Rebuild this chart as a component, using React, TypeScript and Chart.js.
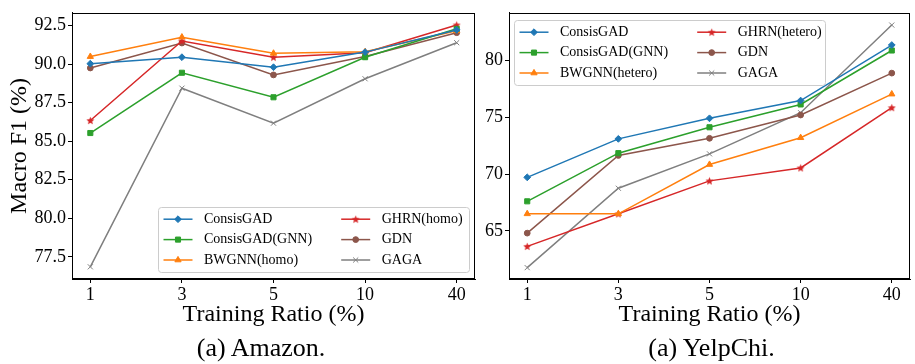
import React, { useEffect, useRef } from 'react';
import { Chart, registerables } from 'chart.js';
import { drawPoint } from 'chart.js/helpers';

Chart.register(...registerables);

// ---------- data ----------
const ratioLabels = ['1', '3', '5', '10', '40'];

const amazonNames = ['ConsisGAD', 'ConsisGAD(GNN)', 'BWGNN(homo)', 'GHRN(homo)', 'GDN', 'GAGA'];
const yelpNames = ['ConsisGAD', 'ConsisGAD(GNN)', 'BWGNN(hetero)', 'GHRN(hetero)', 'GDN', 'GAGA'];

const amazonConsisGAD = [90.03, 90.45, 89.8, 90.78, 92.22];
const amazonConsisGADGNN = [85.53, 89.44, 87.85, 90.45, 92.29];
const amazonBWGNN = [90.49, 91.75, 90.7, 90.8, 92.16];
const amazonGHRN = [86.34, 91.5, 90.45, 90.74, 92.54];
const amazonGDN = [89.75, 91.37, 89.3, 90.49, 92.04];
const amazonGAGA = [76.85, 88.44, 86.17, 89.05, 91.39];

const yelpConsisGAD = [69.71, 73.1, 74.91, 76.47, 81.36];
const yelpConsisGADGNN = [67.6, 71.84, 74.12, 76.13, 80.88];
const yelpBWGNN = [66.5, 66.5, 70.84, 73.2, 77.04];
const yelpGHRN = [63.63, 66.5, 69.4, 70.54, 75.85];
const yelpGDN = [64.8, 71.64, 73.15, 75.2, 78.89];
const yelpGAGA = [61.76, 68.75, 71.78, 75.4, 83.12];

const amazonTicks = [77.5, 80, 82.5, 85, 87.5, 90, 92.5];
const yelpTicks = [65, 70, 75, 80];

const yTitle = 'Macro F1 (%)';
const xTitle = 'Training Ratio (%)';
const amazonCaption = '(a) Amazon.';
const yelpCaption = '(a) YelpChi.';

// ---------- styles ----------
const FONT = '"Liberation Serif", "Times New Roman", serif';
const colors = ['#1f77b4', '#2ca02c', '#ff7f0e', '#d62728', '#8c564b', '#7f7f7f'];

function makeStar(color: string, size: number) {
  const c = document.createElement('canvas');
  c.width = size;
  c.height = size;
  const ctx = c.getContext('2d')!;
  const cx = size / 2, cy = size / 2 + 0.4, R = size / 2 - 0.3, r = R * 0.45;
  ctx.beginPath();
  for (let i = 0; i < 10; i++) {
    const ang = -Math.PI / 2 + (i * Math.PI) / 5;
    const rad = i % 2 === 0 ? R : r;
    ctx.lineTo(cx + rad * Math.cos(ang), cy + rad * Math.sin(ang));
  }
  ctx.closePath();
  ctx.fillStyle = color;
  ctx.fill();
  return c;
}

function pointStyles(): any[] {
  return ['rectRot', 'rect', 'triangle', makeStar(colors[3], 9), 'circle', 'crossRot'];
}
const pointRadii = [3.4, 3.6, 3.6, 4, 2.9, 3.6];

const frameLegendPlugin = {
  id: 'frameLegend',
  afterDatasetsDraw(chart: any, _args: any, opts: any) {
    const { ctx, chartArea: a } = chart;
    ctx.save();
    // full frame (all four spines)
    ctx.strokeStyle = '#000';
    ctx.lineWidth = 1;
    ctx.strokeRect(Math.round(a.left) + 0.5, Math.round(a.top) + 0.5,
      Math.round(a.right) - Math.round(a.left) - 1, Math.round(a.bottom) - Math.round(a.top) - 1);

    // legend box
    const boxW = 311, boxH = 65;
    let bx: number, by: number;
    if (opts.anchor === 'br') {
      bx = a.right - opts.offX - boxW;
      by = a.bottom - opts.offY - boxH;
    } else {
      bx = a.left + opts.offX;
      by = a.top + opts.offY;
    }
    bx = Math.round(bx) + 0.5;
    by = Math.round(by) + 0.5;
    ctx.beginPath();
    if (ctx.roundRect) ctx.roundRect(bx, by, boxW, boxH, 3);
    else ctx.rect(bx, by, boxW, boxH);
    ctx.fillStyle = 'rgba(255,255,255,0.8)';
    ctx.fill();
    ctx.strokeStyle = '#cccccc';
    ctx.lineWidth = 1;
    ctx.stroke();

    chart.data.datasets.forEach((ds: any, i: number) => {
      const col = Math.floor(i / 3), row = i % 3;
      const x0 = bx + 5 + col * 177.7;
      const y = by + 11.7 + row * 20.4;
      ctx.strokeStyle = ds.borderColor;
      ctx.lineWidth = 1.5;
      ctx.beginPath();
      ctx.moveTo(x0, y);
      ctx.lineTo(x0 + 29, y);
      ctx.stroke();
      ctx.fillStyle = ds.pointBackgroundColor;
      ctx.strokeStyle = ds.pointBorderColor;
      ctx.lineWidth = ds.pointBorderWidth;
      drawPoint(ctx, { pointStyle: ds.pointStyle, radius: ds.pointRadius, rotation: 0, borderWidth: ds.pointBorderWidth } as any, x0 + 14.5, y);
      ctx.fillStyle = '#000';
      ctx.font = `14px ${FONT}`;
      ctx.textBaseline = 'middle';
      ctx.textAlign = 'left';
      ctx.fillText(ds.label, x0 + 40.5, y);
    });
    ctx.restore();
  },
};

function buildConfig(p: {
  series: number[][];
  names: string[];
  yMin: number;
  yMax: number;
  yTicks: number[];
  decimals: number;
  showYTitle: boolean;
  yWidth: number;
  padRight: number;
  legend: any;
}) {
  const styles = pointStyles();
  const datasets = p.series.map((vals, i) => ({
    label: p.names[i],
    data: vals.map((v, j) => ({ x: j, y: v })),
    borderColor: colors[i],
    backgroundColor: colors[i],
    pointBackgroundColor: colors[i],
    pointBorderColor: colors[i],
    pointBorderWidth: 1,
    borderWidth: 1.5,
    pointStyle: styles[i],
    pointRadius: pointRadii[i],
    tension: 0,
    fill: false,
  }));
  return {
    type: 'line' as const,
    data: { datasets },
    plugins: [frameLegendPlugin],
    options: {
      responsive: false,
      animation: false,
      devicePixelRatio: 1,
      layout: { padding: { top: 4, right: p.padRight, left: 0, bottom: 0 } },
      plugins: {
        legend: { display: false },
        tooltip: { enabled: false },
        frameLegend: p.legend,
      },
      scales: {
        x: {
          type: 'linear',
          min: -0.2,
          max: ratioLabels.length - 1 + 0.2,
          afterBuildTicks: (s: any) => {
            s.ticks = ratioLabels.map((_, i) => ({ value: i }));
          },
          afterFit: (s: any) => {
            s.height = 85;
          },
          ticks: {
            callback: (v: any) => ratioLabels[v] ?? '',
            color: '#000',
            font: { family: FONT, size: 18 },
            padding: 1,
            maxRotation: 0,
            autoSkip: false,
          },
          grid: { drawOnChartArea: false, drawTicks: true, tickLength: 4, color: '#000' },
          border: { display: true, color: '#000', width: 1 },
          title: {
            display: true,
            text: xTitle,
            color: '#000',
            font: { family: FONT, size: 24, lineHeight: 1.2 },
            padding: { top: 0, bottom: 35 },
          },
        },
        y: {
          type: 'linear',
          min: p.yMin,
          max: p.yMax,
          afterBuildTicks: (s: any) => {
            s.ticks = p.yTicks.map((v) => ({ value: v }));
          },
          afterFit: (s: any) => {
            s.width = p.yWidth;
          },
          ticks: {
            callback: (v: any) => Number(v).toFixed(p.decimals),
            color: '#000',
            font: { family: FONT, size: 18 },
            padding: 2,
          },
          grid: { drawOnChartArea: false, drawTicks: true, tickLength: 4, color: '#000' },
          border: { display: true, color: '#000', width: 1 },
          title: {
            display: p.showYTitle,
            text: yTitle,
            color: '#000',
            font: { family: FONT, size: 24, lineHeight: 1.2 },
            padding: { top: 5, bottom: 0 },
          },
        },
      },
    },
  };
}

function ChartCanvas(props: { config: any; left: number; width: number }) {
  const ref = useRef<HTMLCanvasElement>(null);
  useEffect(() => {
    if (!ref.current) return;
    const chart = new Chart(ref.current, props.config);
    return () => chart.destroy();
  }, []);
  return (
    <canvas
      ref={ref}
      width={props.width}
      height={364}
      style={{ position: 'absolute', left: props.left, top: 0, width: props.width, height: 364 }}
    />
  );
}

export default function App() {
  const amazonCfg = buildConfig({
    series: [amazonConsisGAD, amazonConsisGADGNN, amazonBWGNN, amazonGHRN, amazonGDN, amazonGAGA],
    names: amazonNames,
    yMin: 76.06,
    yMax: 93.33,
    yTicks: amazonTicks,
    decimals: 1,
    showYTitle: true,
    yWidth: 72,
    padRight: 5,
    legend: { anchor: 'br', offX: 6, offY: 7 },
  });
  const yelpCfg = buildConfig({
    series: [yelpConsisGAD, yelpConsisGADGNN, yelpBWGNN, yelpGHRN, yelpGDN, yelpGAGA],
    names: yelpNames,
    yMin: 60.76,
    yMax: 84.2,
    yTicks: yelpTicks,
    decimals: 0,
    showYTitle: false,
    yWidth: 39,
    padRight: 2,
    legend: { anchor: 'tl', offX: 5, offY: 7 },
  });
  const capStyle: React.CSSProperties = {
    position: 'absolute',
    top: 333,
    width: 220,
    textAlign: 'center',
    fontFamily: FONT,
    fontSize: 26,
    lineHeight: '30px',
    color: '#000',
    whiteSpace: 'nowrap',
  };
  return (
    <div style={{ position: 'absolute', left: 0, top: 0, width: 915, height: 364, background: '#fff', overflow: 'hidden' }}>
      <ChartCanvas config={amazonCfg} left={0} width={480} />
      <ChartCanvas config={yelpCfg} left={470} width={445} />
      <div style={{ ...capStyle, left: 261 - 110 }}>{amazonCaption}</div>
      <div style={{ ...capStyle, left: 711.5 - 110 }}>{yelpCaption}</div>
    </div>
  );
}
